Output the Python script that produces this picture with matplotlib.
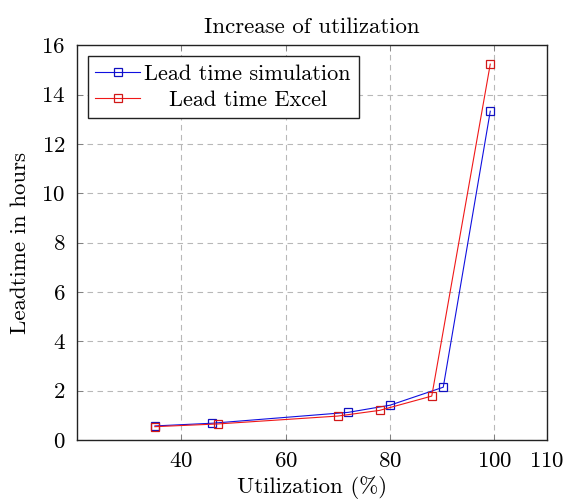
import matplotlib
matplotlib.use("Agg")
import matplotlib.pyplot as plt

plt.rcParams["font.family"] = "serif"
plt.rcParams["font.serif"] = ["cmr10", "DejaVu Serif"]
plt.rcParams["axes.formatter.use_mathtext"] = True
plt.rcParams["mathtext.fontset"] = "cm"

# ── Data ──────────────────────────────────────────────────────
util_sim = [35, 46, 72, 80, 90.2, 99.2]
lead_sim = [0.57, 0.68, 1.12, 1.41, 2.14, 13.33]
util_xls = [35, 47, 70, 78, 88, 99.2]
lead_xls = [0.54, 0.65, 0.97, 1.2, 1.78, 15.24]

x_ticks = [40, 60, 80, 100, 110]
y_ticks = [0, 2, 4, 6, 8, 10, 12, 14, 16]

fig = plt.figure(figsize=(5.63, 5.04), dpi=100)
ax = fig.add_axes([0.136, 0.127, 0.835, 0.783])

ax.plot(util_sim, lead_sim, color="#1010e0", lw=0.8, marker="s", ms=5.5,
        mfc="none", mec="#1010c0", mew=0.9, label="Lead time simulation")
ax.plot(util_xls, lead_xls, color="#f01818", lw=0.8, marker="s", ms=5.5,
        mfc="none", mec="#d01818", mew=0.9, label="Lead time Excel")

ax.set_xlim(20, 110)
ax.set_ylim(0, 16)
ax.set_xticks(x_ticks)
ax.set_yticks(y_ticks)
ax.grid(True, color="#b8b8b8", ls=(0, (5, 4)), lw=0.8)
ax.tick_params(direction="in", top=True, right=True, length=4, width=0.6,
               color="#777777", labelsize=16.5, pad=8)
for s in ax.spines.values():
    s.set_linewidth(1.0)
    s.set_color("#222222")

ax.set_title("Increase of utilization", fontsize=16.5, pad=9)
ax.set_xlabel("Utilization (%)", fontsize=16.5, labelpad=4)
ax.set_ylabel("Leadtime in hours", fontsize=16.5, labelpad=8)

leg = ax.legend(loc="upper left", fontsize=16, frameon=True, fancybox=False,
                edgecolor="#222222", framealpha=1, borderpad=0.35,
                handlelength=2.0, handletextpad=0.2, labelspacing=0.3,
                borderaxespad=0.5)
leg.get_frame().set_linewidth(1.0)

# pgfplots centres legend text; shift the shorter entry
fig.canvas.draw()
r = fig.canvas.get_renderer()
w = [t.get_window_extent(r).width for t in leg.get_texts()]
leg.get_texts()[1].set_x((w[0] - w[1]) / 2)

fig.savefig("out.png", dpi=100)
